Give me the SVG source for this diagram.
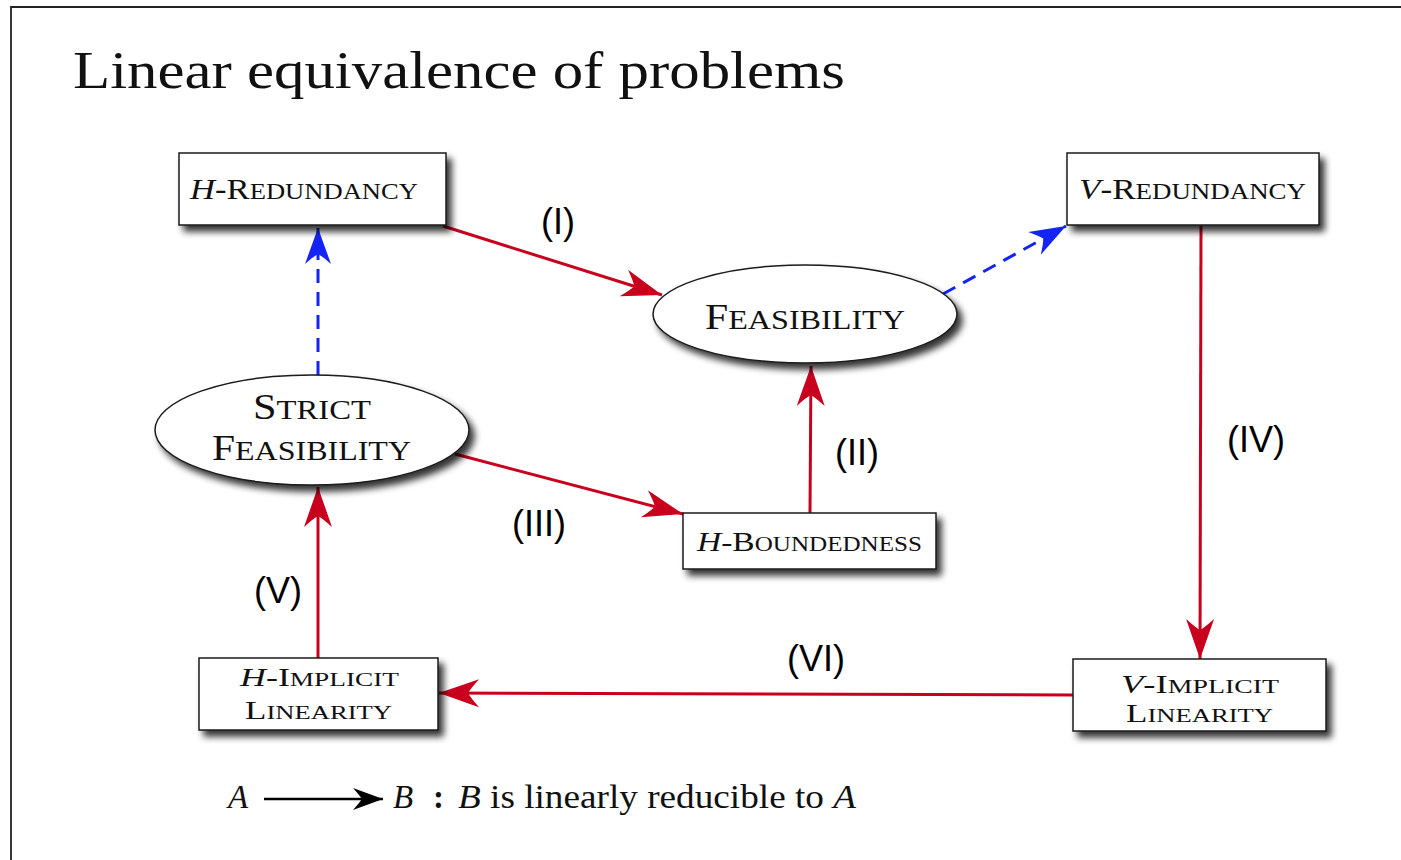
<svg xmlns="http://www.w3.org/2000/svg" width="1401" height="860" viewBox="0 0 1401 860">
<style>
.node{fill:#fff;stroke:#1a1a1a;stroke-width:1.5;filter:url(#sh)}
.t{font-family:"Liberation Serif","DejaVu Serif",serif;fill:#111}
.i{font-style:italic}
.lab{font-family:"Liberation Sans",Arial,sans-serif;font-size:36px;fill:#000;text-anchor:middle}
.red{stroke:#c8001e;stroke-width:3;fill:none}
.blue{stroke:#1424f5;stroke-width:3;fill:none;stroke-dasharray:14 9}
</style>
<defs>
<filter id="sh" x="-20%" y="-30%" width="140%" height="170%">
<feGaussianBlur in="SourceAlpha" stdDeviation="3.5"/>
<feOffset dx="5" dy="6" result="b"/>
<feComponentTransfer><feFuncA type="linear" slope="0.8"/></feComponentTransfer>
<feMerge><feMergeNode/><feMergeNode in="SourceGraphic"/></feMerge>
</filter>
<marker id="ar" markerUnits="userSpaceOnUse" markerWidth="50" markerHeight="40" viewBox="-44 -20 50 40" refX="0" refY="0" orient="auto">
<path d="M0,0 L-40,-14 Q-31,-4 -29,0 Q-31,4 -40,14 Z" fill="#c8001e"/>
</marker>
<marker id="ab" markerUnits="userSpaceOnUse" markerWidth="50" markerHeight="40" viewBox="-44 -20 50 40" refX="0" refY="0" orient="auto">
<path d="M0,0 L-36,-13 Q-28,-4 -26,0 Q-28,4 -36,13 Z" fill="#1424f5"/>
</marker>
<marker id="ak" markerUnits="userSpaceOnUse" markerWidth="40" markerHeight="30" viewBox="-34 -15 40 30" refX="0" refY="0" orient="auto">
<path d="M0,0 L-30,-11 Q-23,-3 -21,0 Q-23,3 -30,11 Z" fill="#000"/>
</marker>
</defs>
<rect width="1401" height="860" fill="#fff"/>
<path d="M11,860 V7 H1401" fill="none" stroke="#222" stroke-width="1.8"/>
<text class="t" x="73" y="88" font-size="52" textLength="772" lengthAdjust="spacingAndGlyphs">Linear equivalence of problems</text>

<g id="connectors">
<line class="red" x1="443" y1="226" x2="662" y2="295" marker-end="url(#ar)"/>
<line class="blue" x1="318" y1="375" x2="318" y2="228" marker-end="url(#ab)"/>
<line class="blue" x1="943" y1="294" x2="1066" y2="226" marker-end="url(#ab)"/>
<line class="red" x1="810" y1="513" x2="811" y2="366" marker-end="url(#ar)"/>
<line class="red" x1="455" y1="454" x2="683" y2="514" marker-end="url(#ar)"/>
<line class="red" x1="1201" y1="226" x2="1200" y2="659" marker-end="url(#ar)"/>
<line class="red" x1="318" y1="658" x2="318" y2="487" marker-end="url(#ar)"/>
<line class="red" x1="1073" y1="695" x2="439" y2="693" marker-end="url(#ar)"/>
<text class="lab" x="558" y="234">(I)</text>
<text class="lab" x="857" y="465">(II)</text>
<text class="lab" x="539" y="536">(III)</text>
<text class="lab" x="1256" y="452">(IV)</text>
<text class="lab" x="278" y="603">(V)</text>
<text class="lab" x="816" y="671">(VI)</text>
</g>

<g id="h-redundancy">
<rect class="node" x="179" y="153" width="267" height="72"/>
<text class="t" x="190" y="199" font-size="30" textLength="228" lengthAdjust="spacingAndGlyphs"><tspan class="i">H</tspan>-R<tspan font-size="23">EDUNDANCY</tspan></text>
</g>
<g id="v-redundancy">
<rect class="node" x="1067" y="153" width="252" height="72"/>
<text class="t" x="1079" y="199" font-size="30" textLength="227" lengthAdjust="spacingAndGlyphs"><tspan class="i">V</tspan>-R<tspan font-size="23">EDUNDANCY</tspan></text>
</g>
<g id="feasibility">
<ellipse class="node" cx="805" cy="314" rx="152" ry="49"/>
<text class="t" x="705" y="329" font-size="35" textLength="200" lengthAdjust="spacingAndGlyphs">F<tspan font-size="27">EASIBILITY</tspan></text>
</g>
<g id="strict-feasibility">
<ellipse class="node" cx="312" cy="430" rx="157" ry="55"/>
<text class="t" x="253" y="419" font-size="35" textLength="118" lengthAdjust="spacingAndGlyphs">S<tspan font-size="27">TRICT</tspan></text>
<text class="t" x="212" y="460" font-size="35" textLength="199" lengthAdjust="spacingAndGlyphs">F<tspan font-size="27">EASIBILITY</tspan></text>
</g>
<g id="h-boundedness">
<rect class="node" x="683" y="513" width="253" height="56"/>
<text class="t" x="697" y="551" font-size="28" textLength="225" lengthAdjust="spacingAndGlyphs"><tspan class="i">H</tspan>-B<tspan font-size="21">OUNDEDNESS</tspan></text>
</g>
<g id="h-implicit-linearity">
<rect class="node" x="199" y="658" width="239" height="72"/>
<text class="t" x="240" y="686" font-size="25" textLength="159" lengthAdjust="spacingAndGlyphs"><tspan class="i">H</tspan>-I<tspan font-size="19">MPLICIT</tspan></text>
<text class="t" x="245" y="719" font-size="25" textLength="147" lengthAdjust="spacingAndGlyphs">L<tspan font-size="19">INEARITY</tspan></text>
</g>
<g id="v-implicit-linearity">
<rect class="node" x="1073" y="659" width="253" height="72"/>
<text class="t" x="1121" y="693" font-size="25" textLength="158" lengthAdjust="spacingAndGlyphs"><tspan class="i">V</tspan>-I<tspan font-size="19">MPLICIT</tspan></text>
<text class="t" x="1126" y="722" font-size="25" textLength="147" lengthAdjust="spacingAndGlyphs">L<tspan font-size="19">INEARITY</tspan></text>
</g>

<g id="legend">
<text class="t i" x="228" y="808" font-size="33">A</text>
<line x1="264" y1="799" x2="383" y2="799" stroke="#000" stroke-width="2.5" marker-end="url(#ak)"/>
<text class="t i" x="393" y="808" font-size="33">B</text>
<text class="t" x="433" y="808" font-size="33" font-weight="bold">:</text>
<text class="t" x="458" y="808" font-size="33" textLength="398" lengthAdjust="spacingAndGlyphs"><tspan class="i">B</tspan> is linearly reducible to <tspan class="i">A</tspan></text>
</g>
</svg>
